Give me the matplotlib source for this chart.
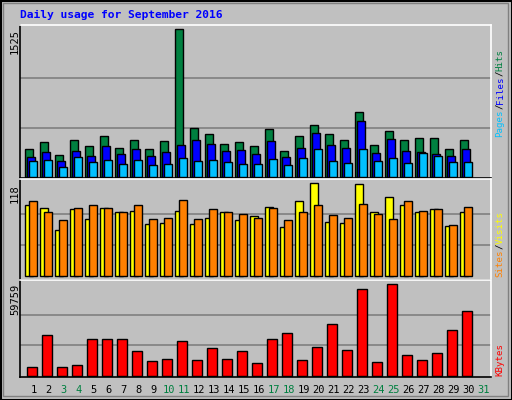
import matplotlib
matplotlib.use("Agg")
import matplotlib.pyplot as plt
from matplotlib.patches import Rectangle
import numpy as np

days = list(range(1, 31))
day_labels = [str(d) for d in range(1, 32)]
weekend = [3, 4, 10, 11, 17, 18, 24, 25, 31]
hits = [283,355,221,376,314,417,293,376,283,366,1525,500,438,335,355,314,490,262,417,531,438,376,666,324,469,376,397,397,283,376]
files = [200,252,159,262,210,314,231,283,210,252,324,376,335,262,273,231,366,200,293,449,324,293,573,242,386,262,252,231,210,283]
pages = [159,169,97,200,148,169,128,169,117,128,190,159,169,148,128,128,179,117,190,283,159,138,283,159,190,138,242,210,148,148]
sites = [90,87,59,86,73,87,82,83,67,68,83,67,74,82,71,76,88,63,95,118,69,68,117,82,101,91,82,86,64,81]
visits = [95,82,72,87,90,87,81,90,73,74,97,73,85,82,79,74,87,72,81,91,78,74,92,79,73,96,83,85,65,88]
kbytes = [5450,26400,5450,6760,23800,23800,23800,15900,9380,10700,22500,10000,17900,10700,15900,8070,23800,27700,10000,18500,33600,16600,56500,8720,59759,13300,10000,14600,29700,42100]

W, H = 512, 400
fig = plt.figure(figsize=(5.12, 4.0), dpi=100)
fig.patch.set_facecolor("#C0C0C0")
mono = "DejaVu Sans Mono"

def px_axes(x0, y0, x1, y1):
    return fig.add_axes([x0 / W, (H - y1) / H, (x1 - x0) / W, (y1 - y0) / H])

fig.add_artist(Rectangle((0.5 / W, 0.5 / H), 1 - 1 / W, 1 - 1 / H, transform=fig.transFigure,
                         fill=False, edgecolor="black", lw=1.5))
fig.add_artist(Rectangle((3 / W, 4 / H), 1 - 7 / W, 1 - 7 / H, transform=fig.transFigure,
                         fill=False, edgecolor="#808080", lw=1))

xl = (0.147, 0.147 + 471 / 15)
dx = 2 / 15
bw = 7.3 / 15

def style(ax, ylim, mx):
    ax.set_facecolor("#C0C0C0")
    ax.set_xlim(*xl)
    ax.set_ylim(*ylim)
    ax.set_xticks([])
    ax.set_yticks([])
    for f in (1 / 3, 2 / 3):
        ax.axhline(mx * f, color="#808080", lw=1.2, zorder=0)
    for s in ("top", "right"):
        ax.spines[s].set_color("white")
    for s in ("left", "bottom"):
        ax.spines[s].set_color("black")
    for s in ax.spines.values():
        s.set_linewidth(1.2)

d = np.array(days)
ax1 = px_axes(20, 25, 491, 178)
style(ax1, (-13, 1569), 1525)
ax1.bar(d - 0.5, hits, width=bw, align="edge", color="#008040", edgecolor="black", lw=1)
ax1.bar(d - 0.5 + dx, files, width=bw, align="edge", color="#0000FF", edgecolor="black", lw=1)
ax1.bar(d - 0.5 + 2 * dx, pages, width=bw, align="edge", color="#00C0FF", edgecolor="black", lw=1)

ax2 = px_axes(20, 179, 491, 280)
style(ax2, (-4.7, 123.5), 118)
ax2.bar(d - 0.5, sites, width=bw, align="edge", color="#FFFF00", edgecolor="black", lw=1)
ax2.bar(d - 0.5 + 2 * dx, visits, width=bw, align="edge", color="#FF8000", edgecolor="black", lw=1)

ax3 = px_axes(20, 280, 491, 377)
style(ax3, (-850, 62570), 59759)
ax3.bar(d - 0.4, kbytes, width=10.3 / 15, align="edge", color="#FF0000", edgecolor="black", lw=1)

for i, lab in enumerate(day_labels):
    dd = i + 1
    ax3.text(dd + 0.07, -0.13, lab, transform=ax3.get_xaxis_transform(), ha="center", va="center",
             fontsize=7.5, family=mono, color="#008040" if dd in weekend else "black")

fig.text(20 / W, 1 - 15 / H, "Daily usage for September 2016", color="#0000FF", fontsize=8.1,
         family=mono, weight="bold", va="center", ha="left")

for ax, lab, top in ((ax1, "1525", 29), (ax2, "118", 184), (ax3, "59759", 284)):
    fig.text(15 / W, 1 - top / H, lab, rotation=90, fontsize=7.5, family=mono,
             ha="center", va="top")

FS = 6.6
CPX = 0.602 * FS * 100 / 72

def vlabel(bottom_px, parts):
    y = bottom_px
    for txt, col in parts:
        fig.text(500 / W, 1 - y / H, txt, rotation=90, color=col, fontsize=FS, family=mono,
                 ha="center", va="bottom")
        y -= len(txt) * CPX

vlabel(137, [("Pages", "#00C0FF"), ("/", "black"), ("Files", "#0000FF"), ("/", "black"), ("Hits", "#008040")])
vlabel(277, [("Sites", "#FF8000"), ("/", "black"), ("Visits", "#FFFF00")])
vlabel(376, [("KBytes", "#FF0000")])

fig.savefig("out.png", dpi=100, facecolor=fig.get_facecolor())
